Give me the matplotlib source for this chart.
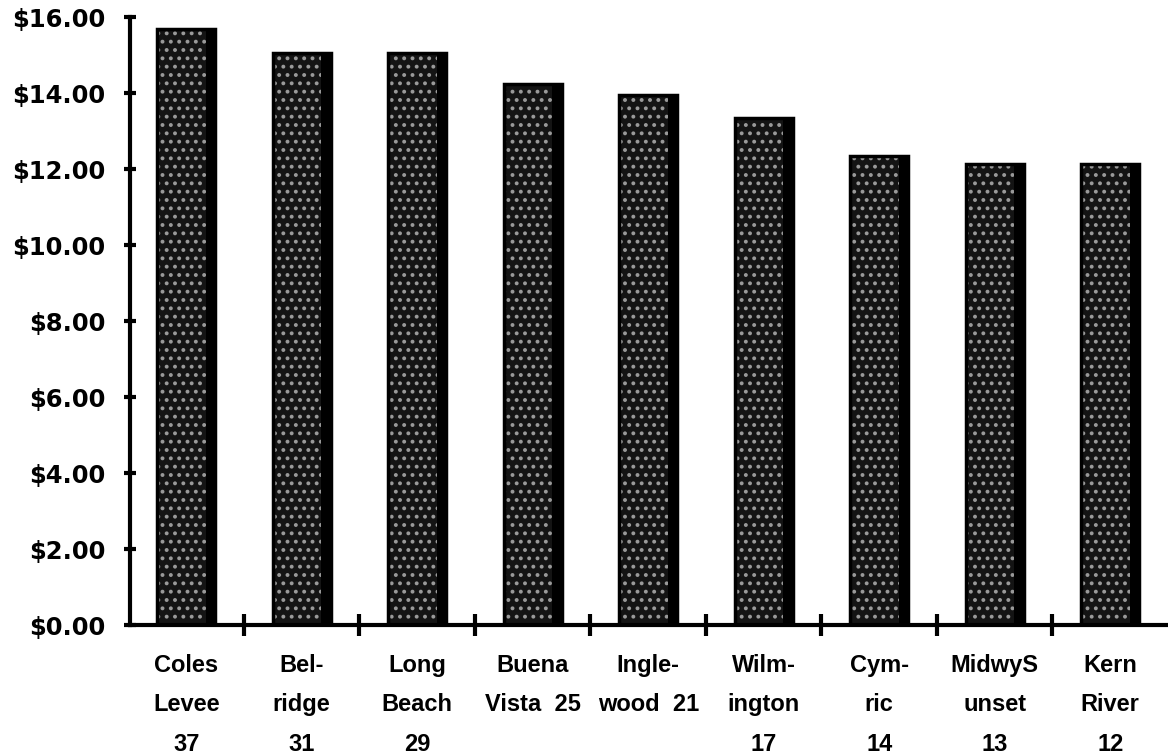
import numpy as np
import matplotlib
matplotlib.use("Agg")
from matplotlib import pyplot as plt

# champs pétroliers et valeur (en $)
champs = ["Coles\nLevee\n37", "Bel-\nridge\n31", "Long\nBeach\n29", "Buena\nVista  25",
          "Ingle-\nwood  21", "Wilm-\nington\n17", "Cym-\nric\n14", "MidwyS\nunset\n13",
          "Kern\nRiver\n12"]
valeurs = [15.70, 15.05, 15.05, 14.25, 13.95, 13.35, 12.35, 12.15, 12.15]
yticks = [0, 2, 4, 6, 8, 10, 12, 14, 16]
ylabels = ["$%.2f" % v for v in yticks]

plt.rcParams['font.family'] = ['Liberation Sans', 'DejaVu Sans']
plt.rcParams['hatch.linewidth'] = 1.6

fig = plt.figure(figsize=(11.68, 7.54), dpi=100)
ax = fig.add_axes([0.111, 0.171, 0.889, 0.806])

x = np.arange(len(valeurs))
# corps de la barre : noir tacheté
ax.bar(x, valeurs, width=0.5, color='#141414', edgecolor='#9a9a9a',
       hatch='..', linewidth=0, zorder=2)
# contour noir
ax.bar(x, valeurs, width=0.5, fill=False, edgecolor='black', linewidth=2.5, zorder=3)
# bande sombre à droite
ax.bar(x + 0.21, valeurs, width=0.08, color='black', linewidth=0, zorder=3)

ax.set_xlim(-0.49, 8.5)
ax.set_ylim(0, 16)

for s in ['top', 'right']:
    ax.spines[s].set_visible(False)
ax.spines['left'].set_linewidth(3)
ax.spines['bottom'].set_linewidth(3)

ax.set_yticks(yticks)
ax.set_yticklabels(ylabels, fontsize=17.5, fontweight='bold', family='DejaVu Sans')
ax.tick_params(axis='y', direction='inout', length=9, width=3, pad=13)

# graduations entre les barres
ax.set_xticks(x[:-1] + 0.5, minor=True)
ax.set_xticks(x)
ax.set_xticklabels(champs, fontsize=17, fontweight='bold', linespacing=1.9)
ax.tick_params(axis='x', which='major', length=0, pad=21)
ax.tick_params(axis='x', which='minor', direction='inout', length=16, width=3)

plt.savefig("out.png", dpi=100)
